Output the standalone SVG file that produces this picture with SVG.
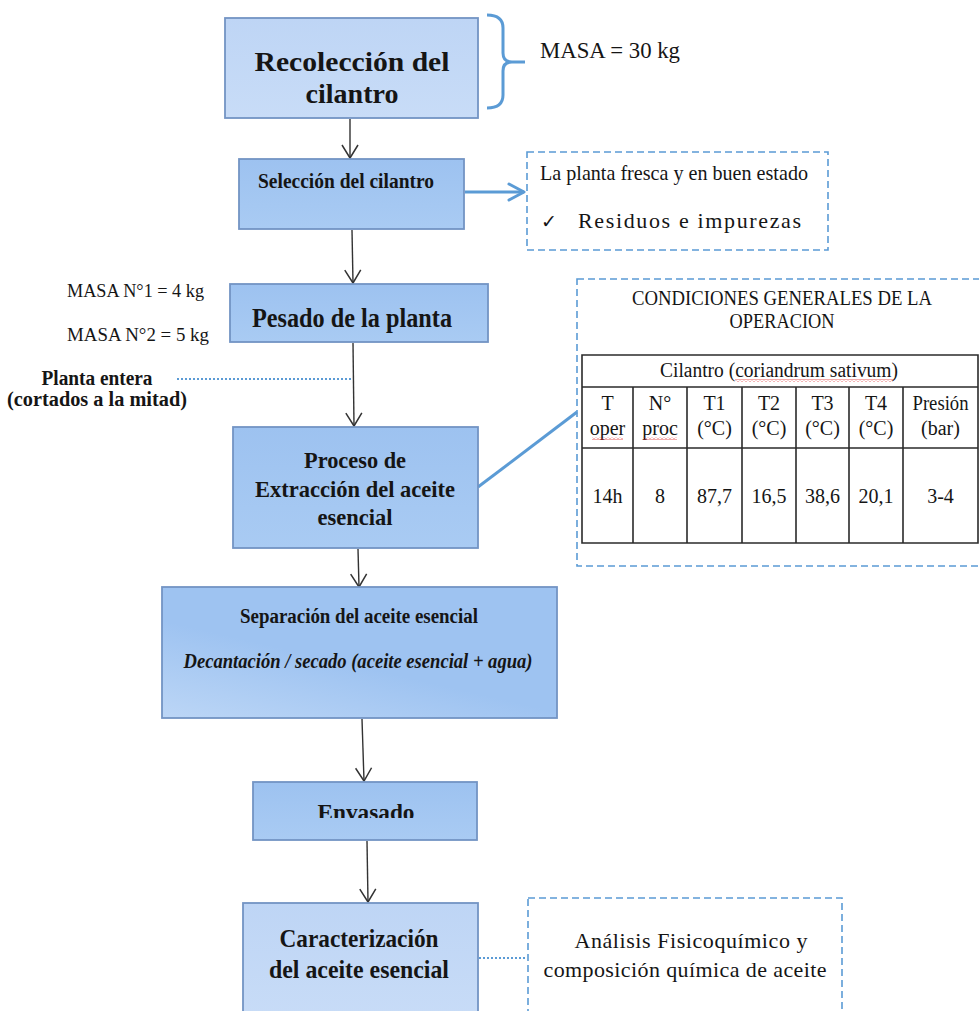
<svg xmlns="http://www.w3.org/2000/svg" width="979" height="1011" viewBox="0 0 979 1011">
<defs>
<style>
.t{font-family:"Liberation Serif","Times New Roman",serif;fill:#151515}
.b{font-weight:bold}
.box{stroke:#7394c4;stroke-width:1.8}
.dash{fill:none;stroke:#5b9bd5;stroke-width:1.6;stroke-dasharray:7 4}
.arr{stroke:#333;stroke-width:1.4;fill:none;marker-end:url(#ah)}
.dot{stroke:#5b9bd5;stroke-width:2.2;stroke-dasharray:2 2;fill:none}
.grid{stroke:#2b2b2b;stroke-width:1.6;fill:none}
.sq{fill:url(#squig)}
</style>
<linearGradient id="gl" x1="0" y1="0" x2="0" y2="1"><stop offset="0" stop-color="#bed5f5"/><stop offset="1" stop-color="#c8dcf7"/></linearGradient>
<linearGradient id="gm" x1="0" y1="0" x2="0" y2="1"><stop offset="0" stop-color="#9dc2f0"/><stop offset="1" stop-color="#a9cbf3"/></linearGradient>
<linearGradient id="gs" x1="0" y1="1" x2="0.35" y2="0.5"><stop offset="0" stop-color="#bcd6f6"/><stop offset="1" stop-color="#9ec3f1"/></linearGradient>
<pattern id="squig" patternUnits="userSpaceOnUse" width="4" height="3"><path d="M0,2.5 L2,0.5 L4,2.5" fill="none" stroke="#e03030" stroke-width="0.8"/></pattern>
<marker id="ah" markerUnits="userSpaceOnUse" viewBox="0 0 16 18" markerWidth="16" markerHeight="18" refX="14" refY="9" orient="auto"><path d="M1,1 L14,9 L1,17" fill="none" stroke="#333" stroke-width="1.5"/></marker>
<marker id="bh" markerUnits="userSpaceOnUse" viewBox="0 0 20 20" markerWidth="20" markerHeight="20" refX="17" refY="10" orient="auto"><path d="M2,2 L17,10 L2,18" fill="none" stroke="#5b9bd5" stroke-width="3" stroke-linecap="round" stroke-linejoin="round"/></marker>
<clipPath id="clipEnv"><rect x="253" y="782" width="224" height="36"/></clipPath>
</defs>

<rect x="0" y="0" width="979" height="1011" fill="#ffffff"/>

<g id="connectors">
<line class="arr" x1="350" y1="119" x2="350" y2="158"/>
<line class="arr" x1="352" y1="230" x2="353" y2="283"/>
<line class="arr" x1="353" y1="343" x2="354" y2="426"/>
<line class="arr" x1="358" y1="549" x2="359" y2="587"/>
<line class="arr" x1="362" y1="719" x2="364" y2="781"/>
<line class="arr" x1="367" y1="841" x2="368" y2="902"/>
<line x1="465" y1="192" x2="524" y2="192" stroke="#5b9bd5" stroke-width="3" marker-end="url(#bh)"/>
<line x1="478" y1="487" x2="577" y2="412" stroke="#5b9bd5" stroke-width="3"/>
<line class="dot" x1="177" y1="379" x2="352" y2="379"/>
<line class="dot" x1="479" y1="958" x2="527" y2="958"/>
<path d="M487,15 Q503,15 503,28 L503,53 Q503,62 512,62 L525,62 M512,62 Q503,62 503,71 L503,95 Q503,108 487,108" fill="none" stroke="#5b9bd5" stroke-width="3"/>
</g>

<g id="n1-recoleccion">
<rect class="box" x="225" y="18" width="253" height="100" fill="url(#gl)"/>
<text class="t b" x="352" y="71" font-size="28" text-anchor="middle" textLength="195" lengthAdjust="spacingAndGlyphs">Recolección del</text>
<text class="t b" x="352" y="103" font-size="28" text-anchor="middle">cilantro</text>
</g>

<g id="note-masa-total">
<text class="t" x="540" y="58" font-size="24" textLength="140" lengthAdjust="spacingAndGlyphs">MASA = 30 kg</text>
</g>

<g id="n2-seleccion">
<rect class="box" x="239" y="159" width="225" height="70" fill="url(#gm)"/>
<text class="t b" x="258" y="188" font-size="21.5" textLength="176" lengthAdjust="spacingAndGlyphs">Selección del cilantro</text>
</g>

<g id="note-seleccion">
<rect class="dash" x="527" y="152" width="301" height="98"/>
<text class="t" x="540" y="180" font-size="22" textLength="268" lengthAdjust="spacingAndGlyphs">La planta fresca y en buen estado</text>
<text class="t" x="541" y="228" font-size="19">✓</text>
<text class="t" x="578" y="228" font-size="22" textLength="223">Residuos e impurezas</text>
</g>

<g id="note-masas">
<text class="t" x="67" y="297" font-size="19.5" textLength="137" lengthAdjust="spacingAndGlyphs">MASA N°1 = 4 kg</text>
<text class="t" x="67" y="341" font-size="19.5" textLength="142" lengthAdjust="spacingAndGlyphs">MASA N°2 = 5 kg</text>
</g>

<g id="n3-pesado">
<rect class="box" x="230" y="284" width="258" height="58" fill="url(#gm)"/>
<text class="t b" x="252" y="327" font-size="27" textLength="200" lengthAdjust="spacingAndGlyphs">Pesado de la planta</text>
</g>

<g id="note-planta">
<text class="t b" x="97" y="385" font-size="20" text-anchor="middle" textLength="111" lengthAdjust="spacingAndGlyphs">Planta entera</text>
<text class="t b" x="97" y="406" font-size="20" text-anchor="middle" textLength="180" lengthAdjust="spacingAndGlyphs">(cortados a la mitad)</text>
</g>

<g id="n4-extraccion">
<rect class="box" x="233" y="427" width="245" height="121" fill="url(#gm)"/>
<text class="t b" x="355" y="468" font-size="23.5" text-anchor="middle" textLength="102" lengthAdjust="spacingAndGlyphs">Proceso de</text>
<text class="t b" x="355" y="497" font-size="23.5" text-anchor="middle" textLength="200" lengthAdjust="spacingAndGlyphs">Extracción del aceite</text>
<text class="t b" x="355" y="525" font-size="23.5" text-anchor="middle" textLength="75" lengthAdjust="spacingAndGlyphs">esencial</text>
</g>

<g id="note-condiciones">
<rect class="dash" x="577" y="279" width="420" height="287"/>
<text class="t" x="782" y="305" font-size="20" text-anchor="middle" textLength="300" lengthAdjust="spacingAndGlyphs">CONDICIONES GENERALES DE LA</text>
<text class="t" x="782" y="328" font-size="20" text-anchor="middle" textLength="105" lengthAdjust="spacingAndGlyphs">OPERACION</text>
<rect x="582" y="355" width="396" height="188" fill="#ffffff"/>
<path class="grid" d="M582,355 H978 V543 H582 Z M582,387 H978 M582,448 H978 M633,387 V543 M687,387 V543 M742,387 V543 M796,387 V543 M849,387 V543 M903,387 V543"/>
<text class="t" x="779" y="377" font-size="20.5" text-anchor="middle" textLength="238" lengthAdjust="spacingAndGlyphs">Cilantro (coriandrum sativum)</text>
<rect class="sq" x="735" y="379" width="158" height="3"/>
<g font-size="20" text-anchor="middle">
<text class="t" x="607.5" y="410">T</text>
<text class="t" x="607.5" y="435">oper</text>
<text class="t" x="660" y="410">N°</text>
<text class="t" x="660" y="435">proc</text>
<text class="t" x="714.5" y="410">T1</text>
<text class="t" x="714.5" y="435">(°C)</text>
<text class="t" x="769" y="410">T2</text>
<text class="t" x="769" y="435">(°C)</text>
<text class="t" x="822.5" y="410">T3</text>
<text class="t" x="822.5" y="435">(°C)</text>
<text class="t" x="876" y="410">T4</text>
<text class="t" x="876" y="435">(°C)</text>
<text class="t" x="940.5" y="410" textLength="56" lengthAdjust="spacingAndGlyphs">Presión</text>
<text class="t" x="940.5" y="435">(bar)</text>
<text class="t" x="607.5" y="503">14h</text>
<text class="t" x="660" y="503">8</text>
<text class="t" x="714.5" y="503">87,7</text>
<text class="t" x="769" y="503">16,5</text>
<text class="t" x="822.5" y="503">38,6</text>
<text class="t" x="876" y="503">20,1</text>
<text class="t" x="940.5" y="503">3-4</text>
</g>
<rect class="sq" x="592" y="437" width="31" height="3"/>
<rect class="sq" x="643" y="437" width="34" height="3"/>
</g>

<g id="n5-separacion">
<rect class="box" x="162" y="587" width="395" height="131" fill="url(#gs)"/>
<text class="t b" x="359" y="623" font-size="20" text-anchor="middle" textLength="238" lengthAdjust="spacingAndGlyphs">Separación del aceite esencial</text>
<text class="t b" x="358" y="668" font-size="20" font-style="italic" text-anchor="middle" textLength="349" lengthAdjust="spacingAndGlyphs">Decantación / secado (aceite esencial + agua)</text>
</g>

<g id="n6-envasado">
<rect class="box" x="253" y="782" width="224" height="58" fill="url(#gm)"/>
<text class="t b" x="366" y="820" font-size="24" text-anchor="middle" textLength="97" lengthAdjust="spacingAndGlyphs" clip-path="url(#clipEnv)">Envasado</text>
</g>

<g id="n7-caracterizacion">
<rect class="box" x="243" y="903" width="235" height="120" fill="url(#gl)"/>
<text class="t b" x="359" y="947" font-size="25" text-anchor="middle" textLength="159" lengthAdjust="spacingAndGlyphs">Caracterización</text>
<text class="t b" x="359" y="978" font-size="25" text-anchor="middle" textLength="180" lengthAdjust="spacingAndGlyphs">del aceite esencial</text>
</g>

<g id="note-analisis">
<rect class="dash" x="528" y="898" width="314" height="130"/>
<text class="t" x="691" y="948" font-size="22" text-anchor="middle" textLength="233">Análisis Fisicoquímico y</text>
<text class="t" x="685" y="977" font-size="22" text-anchor="middle" textLength="283">composición química de aceite</text>
</g>
</svg>
